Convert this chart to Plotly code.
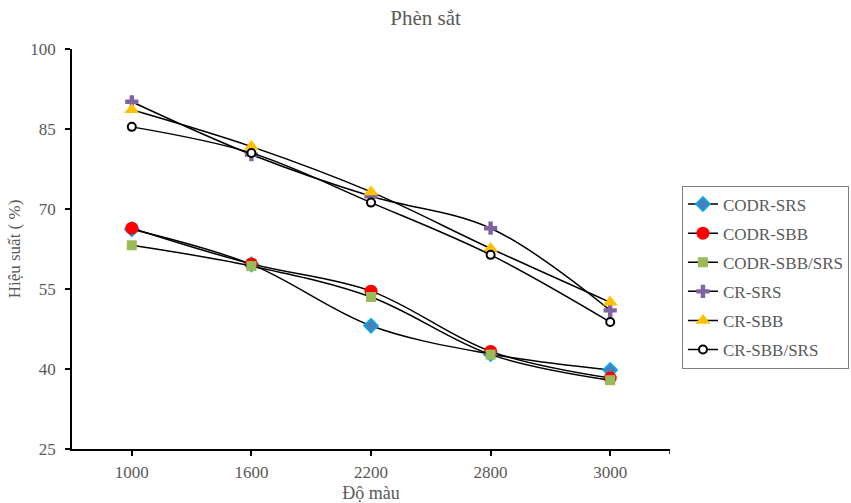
import plotly.graph_objects as go

categories = ["1000", "1600", "2200", "2800", "3000"]
codr_srs = [66.2, 59.6, 48.1, 42.8, 39.8]
codr_sbb = [66.4, 59.7, 54.6, 43.3, 38.3]
codr_sbb_srs = [63.2, 59.3, 53.5, 42.7, 37.9]
cr_srs = [90.1, 80.2, 72.4, 66.4, 51.0]
cr_sbb = [88.6, 81.7, 73.2, 62.6, 52.5]
cr_sbb_srs = [85.4, 80.5, 71.2, 61.4, 48.8]
y_ticks = [25, 40, 55, 70, 85, 100]

FONT = "Liberation Serif"
GRAY = "#595959"

series = [
    ("CODR-SRS", codr_srs, dict(symbol="diamond", size=11, color="#4A7EBB", line=dict(color="#00B0F0", width=1.5))),
    ("CODR-SBB", codr_sbb, dict(symbol="circle", size=13, color="#FF0000", line=dict(color="#FF0000", width=0))),
    ("CODR-SBB/SRS", codr_sbb_srs, dict(symbol="square", size=10, color="#9BBB59", line=dict(color="#9BBB59", width=0))),
    ("CR-SRS", cr_srs, dict(symbol="cross", size=11, color="#8064A2", line=dict(color="#8064A2", width=0))),
    ("CR-SBB", cr_sbb, dict(symbol="triangle-up", size=13, color="#FFC000", line=dict(color="#FFC000", width=0))),
    ("CR-SBB/SRS", cr_sbb_srs, dict(symbol="circle", size=8, color="#FFFFFF", line=dict(color="#000000", width=2))),
]

fig = go.Figure()
for name, vals, marker in series:
    fig.add_trace(go.Scatter(
        x=categories, y=vals, name=name, mode="lines+markers", legendgroup=name,
        line=dict(color="#000000", width=1.5, shape="spline", smoothing=1.0),
        marker=marker,
    ))

fig.update_layout(
    width=851, height=503,
    margin=dict(l=72, r=181, t=49, b=54, autoexpand=False),
    paper_bgcolor="white", plot_bgcolor="white",
    font=dict(family=FONT, size=17, color=GRAY),
    title=dict(text="Phèn sắt", x=0.5, xref="container", xanchor="center",
               y=0.965, yref="container", yanchor="middle",
               font=dict(family=FONT, size=21, color=GRAY)),
    showlegend=True,
    legend=dict(x=1.02, xanchor="left", y=0.43, yanchor="middle",
                bordercolor="#7F7F7F", borderwidth=1,
                font=dict(family=FONT, size=17, color=GRAY),
                tracegroupgap=4, itemwidth=30),
)
fig.update_xaxes(
    type="category", range=[-0.5, 4.5], automargin=False,
    showline=True, linecolor="#000000", linewidth=1.5,
    ticks="outside", ticklen=5, tickcolor="#000000", tickwidth=1.5,
    showgrid=False, zeroline=False, ticklabelstandoff=2,
    tickfont=dict(family=FONT, size=17, color=GRAY),
    title=dict(text="Độ màu", font=dict(family=FONT, size=18, color=GRAY), standoff=6),
)
fig.update_yaxes(
    range=[25, 100], tickvals=y_ticks, automargin=False,
    showline=True, linecolor="#000000", linewidth=1.5,
    ticks="outside", ticklen=5, tickcolor="#000000", tickwidth=1.5,
    showgrid=False, zeroline=False, ticklabelstandoff=6,
    tickfont=dict(family=FONT, size=17, color=GRAY),
    title=dict(text="Hiệu suất ( %)", font=dict(family=FONT, size=17, color=GRAY), standoff=5),
)
fig.add_shape(type="line", xref="x", yref="paper", x0=4.5, x1=4.5, y0=0, y1=-0.0125,
              line=dict(color="#000000", width=1.5))

fig.write_html("out.html")
